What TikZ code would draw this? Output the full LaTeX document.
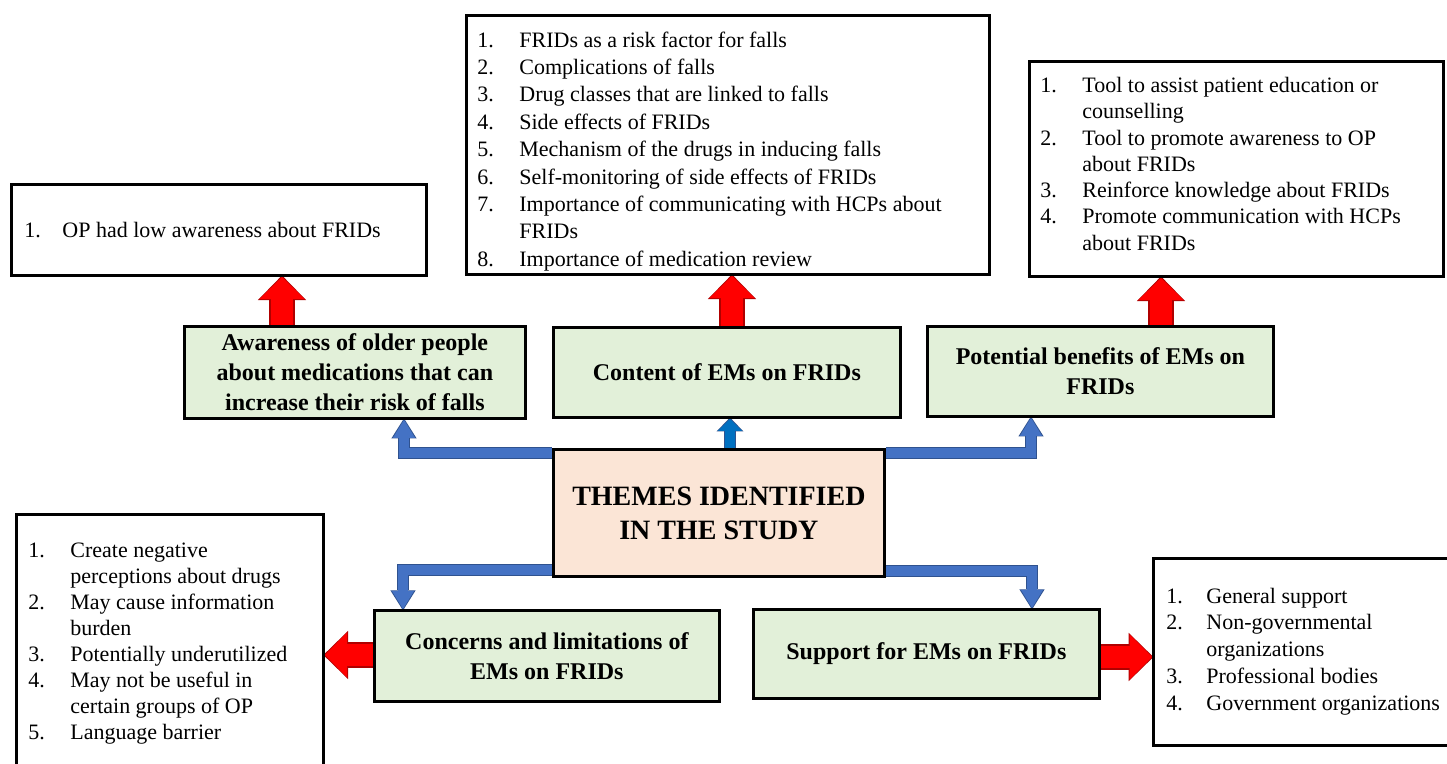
\documentclass[tikz,border=0pt]{standalone}
\usepackage{fontspec}
\setmainfont{Liberation Serif}
\usetikzlibrary{arrows.meta,calc,backgrounds}
\definecolor{gfill}{HTML}{E2F0D9}
\definecolor{cfill}{HTML}{FBE5D6}
\definecolor{bluearr}{HTML}{4472C4}
\definecolor{blueout}{HTML}{2F528F}
\definecolor{midblue}{HTML}{0070C0}
\definecolor{redarr}{HTML}{FF0000}
\definecolor{redout}{HTML}{B00000}
\newcommand\itm[3][21pt]{\strut\makebox[#1][l]{#2}#3}
\newcommand\cnt[2][21pt]{\strut\hspace*{#1}#2}
\begin{document}
\begin{tikzpicture}[x=0.5pt,y=-0.5pt,
  box/.style={draw=black,line width=1.4pt,anchor=north west,inner sep=0pt,fill=white},
  theme/.style={box,fill=gfill,align=center,font=\bfseries\fontsize{12}{15}\selectfont},
  hub/.style={box,fill=cfill,align=center,font=\bfseries\fontsize{14}{17}\selectfont},
  listtext/.style={anchor=north west,inner sep=0pt,align=left},
  redo/.style={draw=redout,line width=12.6pt,shorten >=-0.7pt,-{Triangle[width=24.2pt,length=12.4pt,line width=0pt]}},
  redi/.style={draw=redarr,line width=11.4pt,-{Triangle[width=22.5pt,length=11.2pt,line width=0pt]}},
  blueo/.style={draw=blueout,line width=6pt,line join=miter,shorten >=-0.7pt,-{Triangle[width=12.6pt,length=10pt,line width=0pt]}},
  bluei/.style={draw=bluearr,line width=5pt,line join=miter,-{Triangle[width=11pt,length=9pt,line width=0pt]}},
  mido/.style={draw=blueout,line width=6pt,shorten >=-0.7pt,-{Triangle[width=13.4pt,length=7pt,line width=0pt]}},
  midi/.style={draw=midblue,line width=5pt,-{Triangle[width=12pt,length=6pt,line width=0pt]}}
]
\useasboundingbox (0,0) rectangle (1447,764);

% list boxes
\node[box,minimum width=207.5pt,minimum height=45.5pt] (L1) at (10,183) {};
\node[box,minimum width=261.5pt,minimum height=129.5pt] (L2) at (465,14) {};
\node[box,minimum width=207pt,minimum height=107.5pt] (L3) at (1028,60) {};
\node[box,minimum width=153.5pt,minimum height=135pt] (L4) at (15,513) {};
\node[box,minimum width=155pt,minimum height=93.5pt] (L5) at (1152,557) {};

% theme boxes
\node[theme,minimum width=170.5pt,minimum height=46pt] (G1) at (183,325)
  {Awareness of older people\\about medications that can\\increase their risk of falls};
\node[theme,minimum width=173.5pt,minimum height=45pt] (G2) at (552,326)
  {Content of EMs on FRIDs};
\node[theme,minimum width=173pt,minimum height=45pt] (G3) at (926,325)
  {Potential benefits of EMs on\\FRIDs};
\node[hub,minimum width=165.5pt,minimum height=63.5pt] (C) at (552,448)
  {THEMES IDENTIFIED\\IN THE STUDY};
\node[theme,minimum width=172.5pt,minimum height=45.5pt] (G4) at (373,609)
  {Concerns and limitations of\\EMs on FRIDs};
\node[theme,minimum width=173pt,minimum height=44.5pt] (G5) at (752,608)
  {Support for EMs on FRIDs};

% list texts
\node[listtext,font=\fontsize{11}{13.5}\selectfont] (T1) at (24,218)
  {\itm[19pt]{1.}{OP had low awareness about FRIDs}};
\node[listtext,font=\fontsize{11}{13.7}\selectfont] (T2) at (477,27.6)
  {\itm{1.}{FRIDs as a risk factor for falls}\\
   \itm{2.}{Complications of falls}\\
   \itm{3.}{Drug classes that are linked to falls}\\
   \itm{4.}{Side effects of FRIDs}\\
   \itm{5.}{Mechanism of the drugs in inducing falls}\\
   \itm{6.}{Self-monitoring of side effects of FRIDs}\\
   \itm{7.}{Importance of communicating with HCPs about}\\
   \cnt{FRIDs}\\
   \itm{8.}{Importance of medication review}};
\node[listtext,font=\fontsize{11}{13.15}\selectfont] (T3) at (1040,73.6)
  {\itm{1.}{Tool to assist patient education or}\\
   \cnt{counselling}\\
   \itm{2.}{Tool to promote awareness to OP}\\
   \cnt{about FRIDs}\\
   \itm{3.}{Reinforce knowledge about FRIDs}\\
   \itm{4.}{Promote communication with HCPs}\\
   \cnt{about FRIDs}};
\node[listtext,font=\fontsize{11}{13}\selectfont] (T4) at (28,539)
  {\itm{1.}{Create negative}\\
   \cnt{perceptions about drugs}\\
   \itm{2.}{May cause information}\\
   \cnt{burden}\\
   \itm{3.}{Potentially underutilized}\\
   \itm{4.}{May not be useful in}\\
   \cnt{certain groups of OP}\\
   \itm{5.}{Language barrier}};
\node[listtext,font=\fontsize{11}{13.4}\selectfont] (T5) at (1166,584)
  {\itm[20pt]{1.}{General support}\\
   \itm[20pt]{2.}{Non-governmental}\\
   \cnt[20pt]{organizations}\\
   \itm[20pt]{3.}{Professional bodies}\\
   \itm[20pt]{4.}{Government organizations}};

% guide coordinates
\coordinate (r1x) at (282,0);
\coordinate (r2x) at (732,0);
\coordinate (r3x) at (1161,0);
\coordinate (r4y) at (0,655);
\coordinate (r5y) at (0,657);
\coordinate (b1x) at (404,0);
\coordinate (b2x) at (730,0);
\coordinate (b3x) at (1031,0);
\coordinate (b4x) at (403,0);
\coordinate (b5x) at (1032,0);

\begin{pgfonlayer}{background}
  \fill[white] (0,0) rectangle (1447,764);
  % red arrows
  \foreach \st in {redo,redi}{
    \draw[\st] (r1x |- G1.north) -- (r1x |- L1.south);
    \draw[\st] (r2x |- G2.north) -- (r2x |- L2.south);
    \draw[\st] (r3x |- G3.north) -- (r3x |- L3.south);
    \draw[\st] (G4.west |- r4y) -- (L4.east |- r4y);
    \draw[\st] (G5.east |- r5y) -- (L5.west |- r5y);
  }
  % blue elbow arrows
  \foreach \st in {blueo,bluei}{
    \draw[\st] ($(C.north west)+(0,5)$) -| (b1x |- G1.south);
    \draw[\st] ($(C.north east)+(0,5)$) -| (b3x |- G3.south);
    \draw[\st] ($(C.south west)+(0,-8)$) -| (b4x |- G4.north);
    \draw[\st] ($(C.south east)+(0,-7)$) -| (b5x |- G5.north);
  }
  \draw[mido] (b2x |- C.north) -- (b2x |- G2.south);
  \draw[midi] (b2x |- C.north) -- (b2x |- G2.south);
\end{pgfonlayer}
\end{tikzpicture}
\end{document}
